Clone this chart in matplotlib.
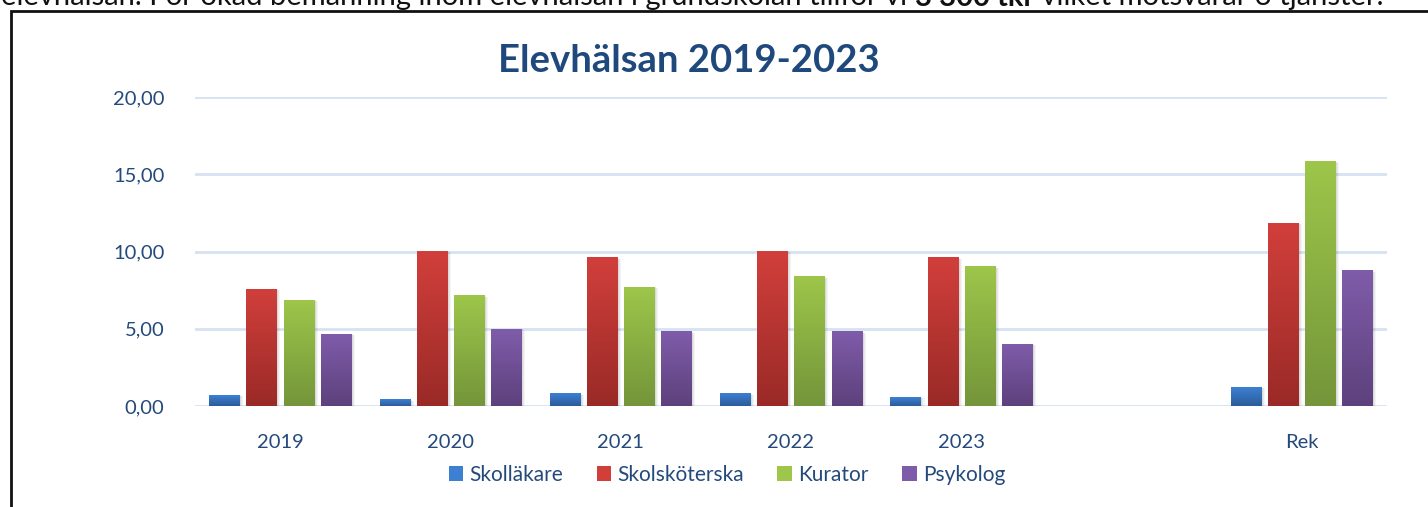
import numpy as np
import matplotlib
matplotlib.use("Agg")
from matplotlib import pyplot as plt
from matplotlib.colors import LinearSegmentedColormap
from matplotlib.patches import Patch, Rectangle
from matplotlib.ticker import FuncFormatter, MultipleLocator

plt.rcParams['font.family'] = ['Lato', 'DejaVu Sans']

categories = ["2019", "2020", "2021", "2022", "2023", "", "Rek"]
series = ["Skolläkare", "Skolsköterska", "Kurator", "Psykolog"]
skollakare = [0.71, 0.39, 0.78, 0.78, 0.58, np.nan, 1.19]
skolskoterska = [7.57, 10.03, 9.58, 10.03, 9.58, np.nan, 11.84]
kurator = [6.86, 7.12, 7.70, 8.35, 9.00, np.nan, 15.80]
psykolog = [4.66, 4.98, 4.79, 4.79, 4.01, np.nan, 8.74]
values = [skollakare, skolskoterska, kurator, psykolog]

# (light top, dark bottom) per series
colors = [("#3d80d2", "#2b5c9b"), ("#d13f3b", "#9a2a27"),
          ("#9dc64a", "#74953a"), ("#7f5caa", "#5d417c")]
text_col = "#1f497d"
tick_col = "#244a7c"

fig = plt.figure(figsize=(14.28, 5.07), dpi=100)
W, H = 1428, 507

# frame around the chart (continues past right/bottom edge)
fig.patches.append(Rectangle((10.5 / W, -0.1), 1.2, (H - 10.5) / H + 0.1,
                             transform=fig.transFigure, fill=False,
                             edgecolor="#111111", linewidth=2))

# cut-off sentence from the page above
renderer = fig.canvas.get_renderer()
parts = [("elevhälsan. För ökad bemanning inom elevhälsan i grundskolan tillför vi ", "normal"),
         ("3 300 tkr", "bold"),
         (" vilket motsvarar 3 tjänster.", "normal")]
x = 1.0
for txt, wt in parts:
    t = fig.text(x / W, 1 - 5.5 / H, txt, fontsize=21, fontweight=wt,
                 va="baseline", ha="left", color="#111111",
                 family=["Lato", "DejaVu Sans"])
    x += t.get_window_extent(renderer).width

ax = fig.add_axes([195 / W, (H - 406) / H, (1387 - 195) / W, (406 - 97) / H])

xpos = np.arange(len(categories))
width = 0.178
step = 0.218
for i, (vals, (c_top, c_bot)) in enumerate(zip(values, colors)):
    offs = (i - 1.5) * step
    bars = ax.bar(xpos + offs, vals, width, color=c_top, zorder=3,
                  linewidth=0)
    cmap = LinearSegmentedColormap.from_list(series[i], [c_bot, c_top])
    grad = np.linspace(0, 1, 128).reshape(-1, 1)
    for b in bars:
        h = b.get_height()
        if not np.isfinite(h):
            continue
        x0 = b.get_x()
        # soft shadow
        for k, a in enumerate([0.06, 0.05, 0.04]):
            d = 0.006 * (k + 1)
            ax.add_patch(Rectangle((x0 + 0.004, -0.05), b.get_width() + d, h + 0.05 - d * 3,
                                   color="#000000", alpha=a, linewidth=0, zorder=2))
        ax.imshow(grad, extent=(x0, x0 + b.get_width(), 0, h), origin="lower",
                  aspect="auto", cmap=cmap, zorder=4, interpolation="bilinear")

ax.set_xlim(-0.5, len(categories) - 0.5)
ax.set_ylim(0, 20)
ax.set_xticks(xpos)
ax.set_xticklabels(categories)
ax.yaxis.set_major_locator(MultipleLocator(5))
ax.yaxis.set_major_formatter(FuncFormatter(lambda v, p: f"{v:.2f}".replace(".", ",")))
ax.grid(axis="y", color="#d6e2f2", linewidth=2, zorder=0)
ax.set_axisbelow(True)
ax.tick_params(axis="both", length=0, labelsize=14.5, labelcolor=tick_col)
ax.tick_params(axis="y", pad=22)
ax.tick_params(axis="x", pad=20)
for s in ax.spines.values():
    s.set_visible(False)

fig.text(689 / W, 1 - 61 / H, "Elevhälsan 2019-2023", ha="center", va="center",
         fontsize=27.5, fontweight="bold", color=text_col)

handles = [Patch(facecolor=c[0], edgecolor=c[1], linewidth=0) for c in colors]
fig.legend(handles, series, loc="center", bbox_to_anchor=(727 / W, 1 - 475 / H),
           ncol=4, frameon=False, fontsize=15, labelcolor=tick_col,
           handlelength=0.7, handleheight=0.7, handletextpad=0.3,
           columnspacing=1.6)

fig.savefig("out.png", dpi=100)
